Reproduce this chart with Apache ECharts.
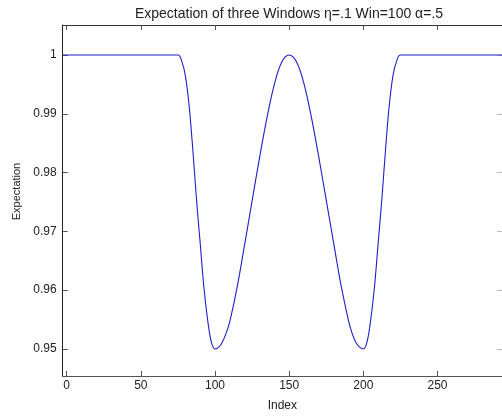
<!DOCTYPE html>
<html>
<head>
<meta charset="utf-8">
<script src="https://cdn.jsdelivr.net/npm/echarts@6/dist/echarts.min.js"></script>
<style>html,body{margin:0;padding:0;background:#fff}#c{width:502px;height:417px}</style>
</head>
<body>
<div id="c"></div>
<script>
var titleText = 'Expectation of three Windows \u03b7=.1 Win=100 \u03b1=.5';
var xTicks = [0, 50, 100, 150, 200, 250];
var yTicks = [0.95, 0.96, 0.97, 0.98, 0.99, 1];
var xs = [-2.7, 0, 75, 77.5, 80, 82.5, 85, 87.5, 90, 92.5, 95, 97.5, 100, 102.5, 105, 107.5, 110, 115, 120, 125, 130, 135, 140, 145, 150, 155, 160, 165, 170, 175, 180, 185, 190, 192.5, 195, 197.5, 200, 202.5, 205, 207.5, 210, 212.5, 215, 217.5, 220, 222.5, 225, 300];
var ys = [1, 1, 1, 0.9990, 0.9965, 0.9915, 0.9840, 0.9755, 0.9680, 0.9605, 0.9550, 0.9512, 0.9500, 0.9503, 0.9512, 0.9527, 0.9547, 0.9606, 0.9678, 0.9752, 0.9825, 0.9893, 0.9950, 0.9988, 1.0000, 0.9988, 0.9951, 0.9894, 0.9826, 0.9753, 0.9680, 0.9608, 0.9548, 0.9526, 0.9511, 0.9503, 0.9500, 0.9512, 0.9550, 0.9605, 0.9680, 0.9755, 0.9840, 0.9915, 0.9965, 0.9990, 1, 1];

var pts = xs.map(function (x, i) { return [x, ys[i]]; });
var font = 'Liberation Sans, Arial, sans-serif';
var chart = echarts.init(document.getElementById('c'), null, {renderer: 'canvas'});
chart.setOption({
  animation: false,
  backgroundColor: '#fff',
  title: {
    text: titleText, left: 284, top: 2, textAlign: 'center',
    textStyle: {fontFamily: font, fontSize: 14, fontWeight: 'normal', color: '#222'}
  },
  grid: {left: 62.7, top: 25, right: -2, bottom: 40, containLabel: false},
  xAxis: [{
    type: 'value', min: -2.7, max: 293.5, position: 'bottom',
    name: 'Index', nameLocation: 'middle', nameGap: 24,
    nameTextStyle: {fontFamily: font, fontSize: 12, color: '#222'},
    axisLine: {show: true, onZero: false, lineStyle: {color: '#555', width: 1}},
    axisTick: {show: true, inside: true, length: 5, customValues: xTicks, lineStyle: {color: '#555'}},
    axisLabel: {show: true, margin: 4, customValues: xTicks, fontFamily: font, fontSize: 12, color: '#222'},
    splitLine: {show: false}
  }, {
    type: 'value', min: -2.7, max: 293.5, position: 'top',
    axisLine: {show: true, onZero: false, lineStyle: {color: '#333', width: 1}},
    axisTick: {show: true, inside: true, length: 5, customValues: xTicks, lineStyle: {color: '#555'}},
    axisLabel: {show: false},
    splitLine: {show: false}
  }],
  yAxis: [{
    type: 'value', min: 0.9454, max: 1.0051, position: 'left',
    name: 'Expectation', nameLocation: 'middle', nameGap: 38,
    nameTextStyle: {fontFamily: font, fontSize: 11, color: '#222', padding: [0, 0, 0, 18]},
    axisLine: {show: true, onZero: false, lineStyle: {color: '#222', width: 1}},
    axisTick: {show: true, inside: true, length: 5, customValues: yTicks, lineStyle: {color: '#555'}},
    axisLabel: {show: true, margin: 6, customValues: yTicks, fontFamily: font, fontSize: 12, color: '#222',
      formatter: function (v) { return String(Math.round(v * 100) / 100); }},
    splitLine: {show: false}
  }, {
    type: 'value', min: 0.9454, max: 1.0051, position: 'right',
    axisLine: {show: true, onZero: false, lineStyle: {color: '#222', width: 1}},
    axisTick: {show: true, inside: true, length: 5, customValues: yTicks, lineStyle: {color: '#bbb'}},
    axisLabel: {show: false},
    splitLine: {show: false}
  }],
  series: [{
    type: 'line', data: pts, xAxisIndex: 0, yAxisIndex: 0,
    showSymbol: false, smooth: 0.35,
    lineStyle: {color: '#1f1fc8', width: 1.1},
    clip: true
  }]
});
</script>
</body>
</html>
